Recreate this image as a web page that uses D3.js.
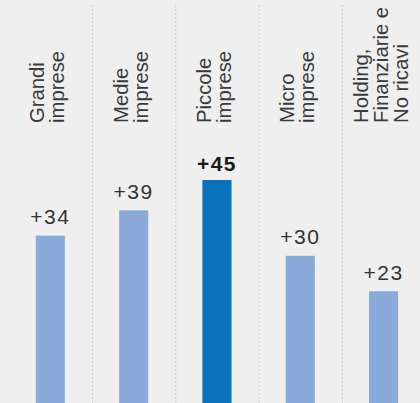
<!DOCTYPE html>
<html>
<head>
<meta charset="utf-8">
<script src="https://cdn.jsdelivr.net/npm/d3@7"></script>
<style>
  html, body { margin: 0; padding: 0; background: #efefef; }
  svg { display: block; font-family: "Liberation Sans", Arial, sans-serif; }
</style>
</head>
<body>
<div id="chart"></div>
<script>
// data
const categories = ["Grandi imprese", "Medie imprese", "Piccole imprese", "Micro imprese", "Holding, Finanziarie e No ricavi"]
const labelLines = [["Grandi", "imprese"], ["Medie", "imprese"], ["Piccole", "imprese"], ["Micro", "imprese"], ["Holding,", "Finanziarie e", "No ricavi"]]
const values = [34, 39, 45, 30, 23]
const highlight = "Piccole imprese"

const width = 420
const height = 403

const svg = d3.select("#chart")
    .append("svg")
      .attr("width", width)
      .attr("height", height)

svg.append("rect")
    .attr("width", width)
    .attr("height", height)
    .attr("fill", "#efefef")

const x = d3.scaleBand()
    .domain(categories)
    .range([8.7, 425.2])
    .padding(0)

const y = d3.scaleLinear()
    .domain([0, 45])
    .range([407.5, 180])

const barWidth = x.bandwidth() * 0.35

// dotted separators between columns
svg.append("g")
    .selectAll("line")
    .data(categories.slice(1))
    .enter().append("line")
      .attr("x1", d => x(d) + 0.5)
      .attr("x2", d => x(d) + 0.5)
      .attr("y1", 5)
      .attr("y2", height)
      .attr("stroke", "#cfcfcf")
      .attr("stroke-width", 1)
      .attr("stroke-dasharray", "2,2")

// bars
svg.append("g")
    .selectAll("rect")
    .data(values)
    .enter().append("rect")
      .attr("x", (d, i) => x(categories[i]) + (x.bandwidth() - barWidth) / 2)
      .attr("y", d => y(d))
      .attr("width", barWidth)
      .attr("height", d => y(0) - y(d))
      .attr("fill", (d, i) => categories[i] === highlight ? "#0a72bd" : "#8aabda")

// value labels
svg.append("g")
    .selectAll("text")
    .data(values)
    .enter().append("text")
      .attr("x", (d, i) => x(categories[i]) + x.bandwidth() / 2)
      .attr("y", (d, i) => y(d) - (categories[i] === highlight ? 9.5 : 11.5))
      .attr("text-anchor", "middle")
      .attr("font-size", 21)
      .attr("letter-spacing", 1.5)
      .attr("font-weight", (d, i) => categories[i] === highlight ? "bold" : "normal")
      .attr("fill", (d, i) => categories[i] === highlight ? "#1a1a1a" : "#333")
      .text(d => "+" + d)

// rotated category labels
const lineGap = 20
const labels = svg.append("g")
    .selectAll("text")
    .data(labelLines)
    .enter().append("text")
      .attr("transform", (d, i) => `translate(${x(categories[i]) + x.bandwidth() / 2}, 123) rotate(-90)`)
      .attr("font-size", 20.3)
      .attr("fill", "#3a3a3a")

labels.selectAll("tspan")
    .data(d => d.map((t, j) => ({t: t, off: 4 + (j - (d.length - 1) / 2) * lineGap})))
    .enter().append("tspan")
      .attr("x", 0)
      .attr("y", d => d.off)
      .text(d => d.t)
</script>
</body>
</html>
